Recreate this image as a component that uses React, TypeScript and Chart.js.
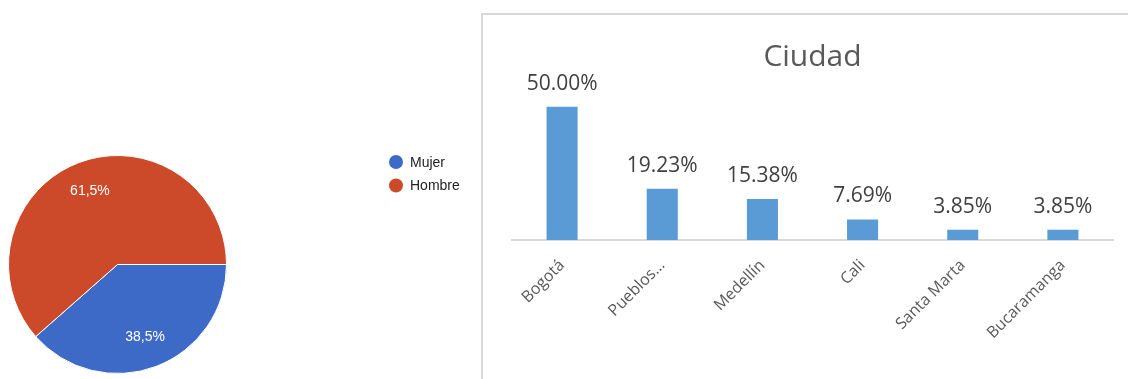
import React, { useEffect, useRef } from "react";
import { Chart, registerables } from "chart.js";

Chart.register(...registerables);

// ---- Data ----
const genderLabels = ["Mujer", "Hombre"];
const genderValues = [38.5, 61.5];
const genderColors = ["#3d69c7", "#cc4a29"];

const cityTitle = "Ciudad";
const cityLabels = ["Bogotá", "Pueblos…", "Medellín", "Cali", "Santa Marta", "Bucaramanga"];
const cityValues = [50.0, 19.23, 15.38, 7.69, 3.85, 3.85];
const cityColor = "#5b9bd5";

const pieLabelsPlugin = {
  id: "pieLabels",
  afterDatasetsDraw(chart: any) {
    const ctx = chart.ctx;
    const meta = chart.getDatasetMeta(0);
    ctx.save();
    ctx.font = '14px "Liberation Sans", Arial, sans-serif';
    ctx.fillStyle = "#ffffff";
    ctx.textAlign = "center";
    ctx.textBaseline = "middle";
    meta.data.forEach((arc: any, i: number) => {
      const p = arc.getProps(["x", "y", "startAngle", "endAngle", "outerRadius"], true);
      const mid = (p.startAngle + p.endAngle) / 2;
      const r = p.outerRadius * 0.715;
      const txt = genderValues[i].toFixed(1).replace(".", ",") + "%";
      ctx.fillText(txt, p.x + Math.cos(mid) * r, p.y + Math.sin(mid) * r);
    });
    ctx.restore();
  },
};

const pieLegendPlugin = {
  id: "pieLegend",
  afterDraw(chart: any) {
    const ctx = chart.ctx;
    const x0 = 396;
    const y0 = 162;
    const gap = 23.5;
    ctx.save();
    ctx.font = '14px "Liberation Sans", Arial, sans-serif';
    ctx.textAlign = "left";
    ctx.textBaseline = "middle";
    chart.data.labels.forEach((lab: string, i: number) => {
      const y = y0 + i * gap;
      ctx.beginPath();
      ctx.arc(x0, y, 7, 0, Math.PI * 2);
      ctx.fillStyle = chart.data.datasets[0].backgroundColor[i];
      ctx.fill();
      ctx.fillStyle = "#222222";
      ctx.fillText(lab, x0 + 14, y + 1);
    });
    ctx.restore();
  },
};

const barLabelsPlugin = {
  id: "barLabels",
  afterDatasetsDraw(chart: any) {
    const ctx = chart.ctx;
    const meta = chart.getDatasetMeta(0);
    ctx.save();
    ctx.font = '21px "Open Sans", sans-serif';
    ctx.fillStyle = "#404040";
    ctx.textAlign = "center";
    ctx.textBaseline = "alphabetic";
    meta.data.forEach((bar: any, i: number) => {
      const p = bar.getProps(["x", "y"], true);
      ctx.fillText(cityValues[i].toFixed(2) + "%", p.x, p.y - 17);
    });
    ctx.restore();
  },
};

export default function App() {
  const pieRef = useRef<HTMLCanvasElement>(null);
  const barRef = useRef<HTMLCanvasElement>(null);

  useEffect(() => {
    const pie = new Chart(pieRef.current as HTMLCanvasElement, {
      type: "pie",
      data: {
        labels: genderLabels,
        datasets: [
          {
            data: genderValues,
            backgroundColor: genderColors,
            borderColor: "#ffffff",
            borderWidth: 1,
          },
        ],
      },
      options: {
        animation: false,
        responsive: false,
        maintainAspectRatio: false,
        rotation: 90,
        layout: { padding: { left: 8, top: 155, right: 253, bottom: 5 } },
        plugins: { legend: { display: false }, tooltip: { enabled: false } },
      },
      plugins: [pieLabelsPlugin, pieLegendPlugin],
    } as any);

    const bar = new Chart(barRef.current as HTMLCanvasElement, {
      type: "bar",
      data: {
        labels: cityLabels,
        datasets: [
          {
            data: cityValues,
            backgroundColor: cityColor,
            borderWidth: 0,
            categoryPercentage: 1,
            barPercentage: 0.31,
          },
        ],
      },
      options: {
        animation: false,
        responsive: false,
        maintainAspectRatio: false,
        layout: { padding: { left: 29, right: 15, top: 0, bottom: 0 } },
        plugins: {
          legend: { display: false },
          tooltip: { enabled: false },
          title: {
            display: true,
            text: cityTitle,
            color: "#595959",
            fullSize: false,
            font: { family: '"Open Sans", sans-serif', size: 30, weight: "normal" },
            padding: { top: 24, bottom: 5 },
          },
        },
        scales: {
          x: {
            grid: { display: false, drawTicks: false },
            border: { color: "#d9d9d9", width: 2 },
            ticks: {
              color: "#595959",
              font: { family: '"Open Sans", sans-serif', size: 16 },
              maxRotation: 45,
              minRotation: 45,
              autoSkip: false,
              padding: 16,
            },
            afterFit: (s: any) => {
              s.height = 139;
            },
          },
          y: { display: false, min: 0, max: 60 },
        },
      },
      plugins: [barLabelsPlugin],
    } as any);

    return () => {
      pie.destroy();
      bar.destroy();
    };
  }, []);

  return (
    <div style={{ position: "absolute", left: 0, top: 0, width: 1128, height: 379, background: "#ffffff", overflow: "hidden" }}>
      <canvas ref={pieRef} width={480} height={379} style={{ position: "absolute", left: 0, top: 0 }} />
      <div
        style={{
          position: "absolute",
          left: 481,
          top: 13,
          width: 647,
          height: 366,
          boxSizing: "border-box",
          borderLeft: "2px solid #d9d9d9",
          borderTop: "2px solid #d9d9d9",
        }}
      />
      <canvas ref={barRef} width={645} height={364} style={{ position: "absolute", left: 483, top: 15 }} />
    </div>
  );
}
